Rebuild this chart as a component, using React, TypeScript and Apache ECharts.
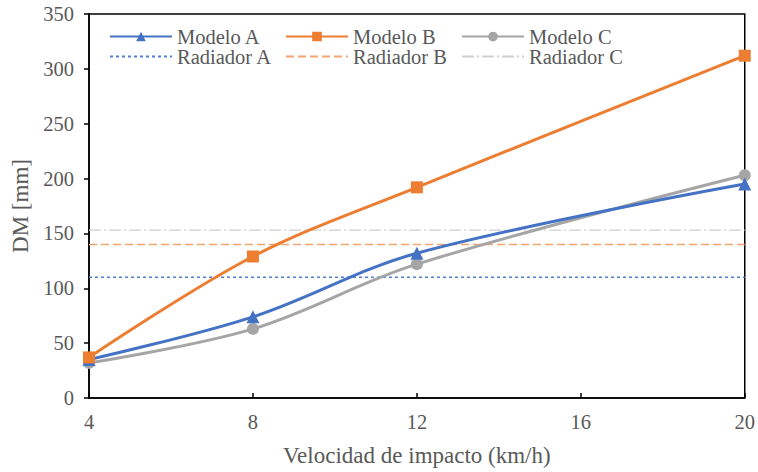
import React, { useEffect, useRef } from "react";
import * as echarts from "echarts";

const speeds = [4, 8, 12, 20];
const modeloA = [35, 74, 132, 195];
const modeloB = [37, 129, 192, 312];
const modeloC = [32, 63, 122, 203];
const radiadorSpan = [4, 20];
const radiadorA = 110;
const radiadorB = 140;
const radiadorC = 153;

const FONT = "'Liberation Serif', 'Times New Roman', serif";
const TXT = "#595959";

function pairs(xs: number[], ys: number[]) {
  return xs.map((x, i) => [x, ys[i]]);
}

export default function App() {
  const ref = useRef<HTMLDivElement>(null);
  useEffect(() => {
    const chart = echarts.init(ref.current!, null, { renderer: "svg" });
    const legendPos: [string, number, number, boolean][] = [
      ["Modelo A", 109, 26, true],
      ["Modelo B", 285, 26, true],
      ["Modelo C", 461, 26, true],
      ["Radiador A", 109, 46, false],
      ["Radiador B", 285, 46, false],
      ["Radiador C", 461, 46, false],
    ];
    chart.setOption({
      animation: false,
      textStyle: { fontFamily: FONT },
      grid: {
        left: 89,
        right: 10,
        top: 14,
        bottom: 74,
        show: true,
        borderColor: "#000",
        borderWidth: 1.5,
      },
      legend: legendPos.map(([name, left, top, sym]) => ({
        data: [name],
        left,
        top,
        padding: 0,
        itemWidth: 62,
        itemHeight: 12,
        itemStyle: sym ? {} : { opacity: 0 },
        textStyle: { fontFamily: FONT, fontSize: 20.5, color: TXT },
      })),
      xAxis: {
        type: "value",
        min: 4,
        max: 20,
        interval: 4,
        name: "Velocidad de impacto (km/h)",
        nameLocation: "middle",
        nameGap: 46,
        nameTextStyle: { fontFamily: FONT, fontSize: 23, color: TXT },
        axisLine: { lineStyle: { color: "#000", width: 1.5 } },
        axisTick: { inside: true, length: 5, lineStyle: { color: "#000", width: 1.5 } },
        axisLabel: { margin: 13, fontFamily: FONT, fontSize: 20.5, color: TXT },
        splitLine: { show: false },
      },
      yAxis: {
        type: "value",
        min: 0,
        max: 350,
        interval: 50,
        name: "DM [mm]",
        nameLocation: "middle",
        nameGap: 53,
        nameTextStyle: { fontFamily: FONT, fontSize: 23, color: TXT },
        axisLine: { show: true, lineStyle: { color: "#000", width: 1.5 } },
        axisTick: { show: true, inside: false, length: 5, lineStyle: { color: "#000", width: 1.5 } },
        axisLabel: { margin: 15, fontFamily: FONT, fontSize: 20.5, color: TXT },
        splitLine: { show: false },
      },
      series: [
        {
          name: "Radiador A",
          type: "line",
          data: pairs(radiadorSpan, [radiadorA, radiadorA]),
          symbol: "none",
          lineStyle: { color: "#4F7FD6", width: 1.5, type: [3, 3] },
          itemStyle: { color: "#4F7FD6" },
          z: 1,
        },
        {
          name: "Radiador B",
          type: "line",
          data: pairs(radiadorSpan, [radiadorB, radiadorB]),
          symbol: "none",
          lineStyle: { color: "#F4A470", width: 1.5, type: [8, 4] },
          itemStyle: { color: "#F4A470" },
          z: 1,
        },
        {
          name: "Radiador C",
          type: "line",
          data: pairs(radiadorSpan, [radiadorC, radiadorC]),
          symbol: "none",
          lineStyle: { color: "#CFCFCF", width: 1.3, type: [12, 3, 2, 3] },
          itemStyle: { color: "#CFCFCF" },
          z: 1,
        },
        {
          name: "Modelo A",
          type: "line",
          data: pairs(speeds, modeloA),
          smooth: 0.35,
          symbol: "triangle",
          symbolSize: 13,
          lineStyle: { color: "#4472C4", width: 3 },
          itemStyle: { color: "#4472C4" },
          z: 3,
        },
        {
          name: "Modelo B",
          type: "line",
          data: pairs(speeds, modeloB),
          smooth: 0.35,
          symbol: "rect",
          symbolSize: 12,
          lineStyle: { color: "#ED7D31", width: 3 },
          itemStyle: { color: "#ED7D31" },
          z: 3,
        },
        {
          name: "Modelo C",
          type: "line",
          data: pairs(speeds, modeloC),
          smooth: 0.35,
          symbol: "circle",
          symbolSize: 12,
          lineStyle: { color: "#A5A5A5", width: 3 },
          itemStyle: { color: "#A5A5A5" },
          z: 2,
        },
      ],
    });
    return () => chart.dispose();
  }, []);
  return <div ref={ref} style={{ width: 758, height: 472, position: "absolute", left: 0, top: 0 }} />;
}
